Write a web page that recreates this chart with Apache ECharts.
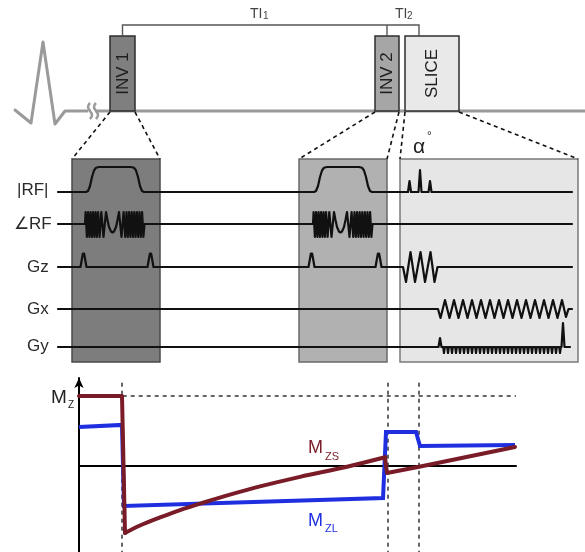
<!DOCTYPE html>
<html><head><meta charset="utf-8">
<style>html,body{margin:0;padding:0;background:#fff}#c{width:585px;height:552px}</style>
<script src="https://cdn.jsdelivr.net/npm/echarts@6/dist/echarts.min.js"></script>
</head><body><div id="c"></div>
<script>
// ================= DATA =================
// --- top timeline (time runs left to right) ---
const ecgTrace = [[15,110],[31,123],[43,42],[55,124],[65,111],[87,111]];
const timelineRight = [[97,111],[585,111]];
const breakMarkA = [[90,103],[88,107],[90,111],[92,115],[90,119]];
const breakMarkB = [[96,103],[94,107],[96,111],[98,115],[96,119]];
const blockNames = ['INV 1','INV 2','SLICE'];
const blockStart = [110, 375, 405];
const blockEnd   = [135, 399, 459];
const blockTop = 36, blockBottom = 111;
const tiTicks = [122.5, 387, 419];
const tiBarY = 25;
const tiLabels = ['TI','TI'];
const tiSubs = ['1','2'];

// --- zoomed panels ---
const panelStart = [72, 299, 400];
const panelEnd   = [160, 387, 578];
const panelTop = 159, panelBottom = 362;

// --- channels ---
const channelNames = ['|RF|','\u2220RF','Gz','Gx','Gy'];
const channelY = [192, 224, 267, 309, 347];
const channelStart = 58, channelEnd = 572;
// inversion pulse magnitude: [dt, amplitude]
const invStart = [86, 314];
const invRFshape = [[0,0],[2,1],[4,6],[6,15],[8,21.5],[10,24.3],[13,25],[45,25],[48,24.3],[50,21.5],[52,15],[54,6],[56,1],[58,0]];
// inversion pulse phase (chirped sweep)
const invPhaseStart = [85, 313];
const invPhaseShape = [[0,0],[0.6,12],[1.9,-13],[3.1,12],[4.4,-13],[5.6,12],[6.9,-13],[8.1,12],[9.4,-13],[10.6,12],[11.9,-13],[13.1,12],[14.6,-13],[16.3,12],[18.5,-13],[21,12],[22.5,4],[24,-3],[26,-7.5],[27.5,-8.5],[29,-7.5],[31,-3],[32.5,4],[34,12],[36.5,-13],[38.6,12],[40.2,-13],[41.5,12],[42.8,-13],[44.1,12],[45.4,-13],[46.7,12],[48,-13],[49.3,12],[50.6,-13],[51.9,12],[53.2,-13],[54.5,12],[55.8,-13],[57.1,12],[58.4,-13],[59.5,0]];
// crusher gradients
const crusherTimes = [83.5, 150.5, 311.5, 378.5];
const crusherShape = [[-3,0],[-1.6,8],[-0.6,13.5],[0.6,13.5],[1.6,8],[3,0]];
// imaging block
const sliceRF = [[408,0],[409.5,11],[411,0],[418.5,0],[420,22],[421.5,0],[428.5,0],[430,11],[431.5,0]];
const sliceGz = [[403,0],[406,-15],[410.5,15],[415,-15],[420.5,15],[425,-15],[430.5,15],[434.5,-15],[437.5,0]];
const readoutGx = [[438,0],[440.5,-9],[445,9],[449.5,-9],[454,9],[458.5,-9],[463,9],[467.5,-9],[472,9],[476.5,-9],[481,9],[485.5,-9],[490,9],[494.5,-9],[499,9],[503.5,-9],[508,9],[512.5,-9],[517,9],[521.5,-9],[526,9],[530.5,-9],[535,9],[539.5,-9],[544,9],[548.5,-9],[553,9],[557.5,-9],[562,9],[566,-8],[568.5,0]];
const gyPrephase = [[438.5,0],[440,9],[441.5,0]];
const gyBlips = [444,448,452,456,460,464,468,472,476,480,484,488,492,496,500,504,508,512,516,520,524,528,532,536,540,544,548,552,556,560];
const gyBlipShape = [[-0.8,0],[0,-6],[0.8,0]];
const gyRewind = [[561.5,0],[563,24],[564.5,0]];
const gyEnd = 570;

// --- Mz evolution (time 0..100, Mz normalised to M0 = 1) ---
const mzsBefore   = [[0,1.0],[9.84,1.0],[10.53,-0.957]];
const mzsRecovery = [[10.53,-0.957],[13.96,-0.850],[18.54,-0.735],[23.11,-0.630],[28.38,-0.525],[34.55,-0.410],[41.42,-0.292],[50.57,-0.155],[61.33,-0.010],[70.02,0.125]];
const mzsAfter    = [[70.02,0.125],[70.48,-0.10],[77.57,-0.014],[99.77,0.271]];
const mzlCurve = [[0,0.557],[9.84,0.586],[10.3,-0.571],[69.57,-0.457],[70.25,0.486],[77.12,0.486],[78.03,0.286],[99.77,0.30]];
const eventTimes = [9.84, 70.7, 77.8];
const m0Level = 1.0;

// ================= BUILD =================
const FONT = '"Liberation Sans", Arial, Helvetica, sans-serif';
function place(shape, t0, base){ return shape.map(p => [t0 + p[0], base - p[1]]); }
function absolute(pts, base){ return pts.map(p => [p[0], base - p[1]]); }

const chRF = [[channelStart, channelY[0]]]
  .concat(place(invRFshape, invStart[0], channelY[0]))
  .concat(place(invRFshape, invStart[1], channelY[0]))
  .concat(absolute(sliceRF, channelY[0]))
  .concat([[channelEnd, channelY[0]]]);
const chPh = [[channelStart, channelY[1]]]
  .concat(place(invPhaseShape, invPhaseStart[0], channelY[1]))
  .concat(place(invPhaseShape, invPhaseStart[1], channelY[1]))
  .concat([[channelEnd, channelY[1]]]);
let chGz = [[channelStart, channelY[2]]];
crusherTimes.forEach(t => { chGz = chGz.concat(place(crusherShape, t, channelY[2])); });
chGz = chGz.concat(absolute(sliceGz, channelY[2])).concat([[channelEnd, channelY[2]]]);
const chGx = [[channelStart, channelY[3]]].concat(absolute(readoutGx, channelY[3])).concat([[channelEnd, channelY[3]]]);
let chGy = [[channelStart, channelY[4]]].concat(absolute(gyPrephase, channelY[4]));
gyBlips.forEach(t => { chGy = chGy.concat(place(gyBlipShape, t, channelY[4])); });
chGy = chGy.concat(absolute(gyRewind, channelY[4])).concat([[gyEnd, channelY[4]]]);
const channels = [chRF, chPh, chGz, chGx, chGy];

const panelData = panelStart.map((s,i) => [s, panelTop, panelEnd[i], panelBottom]);
const blockData = blockStart.map((s,i) => [s, blockTop, blockEnd[i], blockBottom]);
const panelFill = ['#7d7d7d','#b1b1b1','#e6e6e6'];
const panelStroke = ['#4a4a4a','#6a6a6a','#7a7a7a'];
const blockFill = ['#7f7f7f','#a6a6a6','#e9e9e9'];

const zoomLines = [];
blockStart.forEach((s,i) => {
  zoomLines.push({coords:[[s, blockBottom+1],[panelStart[i], panelTop]]});
  zoomLines.push({coords:[[blockEnd[i], blockBottom+1],[panelEnd[i], panelTop]]});
});
const bracket = [
  {coords:[[tiTicks[0], blockTop],[tiTicks[0], tiBarY],[tiTicks[2], tiBarY],[tiTicks[2], blockTop]]},
  {coords:[[tiTicks[1], tiBarY],[tiTicks[1], blockTop]]}
];

const guides = [{coords:[[10, m0Level],[100, m0Level]]}];
eventTimes.forEach(t => guides.push({coords:[[t, 1.19],[t, -1.229]]}));

function poly(list, color, width, z){
  return {type:'lines', coordinateSystem:'cartesian2d', xAxisIndex:0, yAxisIndex:0, polyline:true, silent:true, z:z,
    data:list.map(c => ({coords:c})), lineStyle:{color:color, width:width, opacity:1, join:'round', cap:'round'}};
}

const series = [];
series.push({type:'custom', xAxisIndex:0, yAxisIndex:0, z:1, data:panelData, silent:true,
  renderItem:(params, api) => {
    const a = api.coord([api.value(0), api.value(1)]);
    const b = api.coord([api.value(2), api.value(3)]);
    return {type:'rect', shape:{x:a[0], y:a[1], width:b[0]-a[0], height:b[1]-a[1]},
      style:{fill:panelFill[params.dataIndex], stroke:panelStroke[params.dataIndex], lineWidth:1.5}};
  }});
series.push(poly([ecgTrace, timelineRight], '#9a9a9a', 3, 2));
series.push({type:'line', xAxisIndex:0, yAxisIndex:0, data:breakMarkA, smooth:true, showSymbol:false, symbol:'none', silent:true, z:2,
  lineStyle:{color:'#9a9a9a', width:2.5}});
series.push({type:'line', xAxisIndex:0, yAxisIndex:0, data:breakMarkB, smooth:true, showSymbol:false, symbol:'none', silent:true, z:2,
  lineStyle:{color:'#9a9a9a', width:2.5}});
series.push({type:'custom', xAxisIndex:0, yAxisIndex:0, z:3, data:blockData, silent:true,
  renderItem:(params, api) => {
    const a = api.coord([api.value(0), api.value(1)]);
    const b = api.coord([api.value(2), api.value(3)]);
    return {type:'group', children:[
      {type:'rect', shape:{x:a[0], y:a[1], width:b[0]-a[0], height:b[1]-a[1]},
        style:{fill:blockFill[params.dataIndex], stroke:'#2e2e2e', lineWidth:1.5}},
      {type:'text', x:(a[0]+b[0])/2 + 0.5, y:(a[1]+b[1])/2, rotation:Math.PI/2,
        style:{text:blockNames[params.dataIndex], fill:'#1e1e1e', font:'17px ' + FONT,
          align:'center', verticalAlign:'middle', textAlign:'center', textVerticalAlign:'middle'}}
    ]};
  }});
series.push({type:'lines', coordinateSystem:'cartesian2d', xAxisIndex:0, yAxisIndex:0, z:3, silent:true,
  data:zoomLines, lineStyle:{color:'#111', width:1.6, type:[4,3.5], opacity:1}});
series.push({type:'lines', coordinateSystem:'cartesian2d', xAxisIndex:0, yAxisIndex:0, z:3, silent:true,
  polyline:true, data:bracket, lineStyle:{color:'#555', width:1.4, opacity:1}});
series.push(poly(channels, '#111', 2.2, 5));

// Mz plot
series.push({type:'lines', coordinateSystem:'cartesian2d', xAxisIndex:1, yAxisIndex:1, z:3, silent:true,
  data:guides, lineStyle:{color:'#333', width:1.5, type:[4,4], opacity:1}});
series.push({type:'line', xAxisIndex:1, yAxisIndex:1, data:mzlCurve, showSymbol:false, symbol:'none', z:6,
  lineStyle:{color:'#1f2fe0', width:4, join:'miter'}, silent:true, animation:false});
[mzsBefore, mzsRecovery, mzsAfter].forEach((seg, i) => {
  series.push({type:'line', xAxisIndex:1, yAxisIndex:1, data:seg, showSymbol:false, symbol:'none', z:7,
    smooth: i === 1 ? 0.35 : false,
    lineStyle:{color:'#7a1b28', width:4, join:'round', cap:'round'}, silent:true, animation:false});
});

function txt(x, y, text, size, color, align){
  return {type:'text', x:x, y:y, z:100, silent:true,
    style:{text:text, fill:color, font:size + 'px ' + FONT,
      align:align||'left', verticalAlign:'middle', textAlign:align||'left', textVerticalAlign:'middle'}};
}
const graphics = [];
const chLabelX = [17, 14, 27, 27, 27];
const chLabelDy = [-2, 0, 0, 0, -1];
channelNames.forEach((n,i) => graphics.push(txt(chLabelX[i], channelY[i] + chLabelDy[i], n, 17, '#2a2a2a')));
graphics.push(txt(250, 14, tiLabels[0], 14, '#444'));
graphics.push(txt(263, 16, tiSubs[0], 10, '#444'));
graphics.push(txt(395, 14, tiLabels[1], 14, '#444'));
graphics.push(txt(407, 16, tiSubs[1], 10, '#444'));
graphics.push(txt(413, 147, '\u03b1', 21, '#222'));
graphics.push(txt(427, 137, '\u00b0', 12, '#222'));
graphics.push(txt(51, 398, 'M', 19, '#222'));
graphics.push(txt(68, 405, 'Z', 10, '#222'));
graphics.push(txt(308, 448, 'M', 18, '#7a1b28'));
graphics.push(txt(325, 457, 'ZS', 11, '#7a1b28'));
graphics.push(txt(308, 521, 'M', 18, '#1f2fe0'));
graphics.push(txt(325, 529, 'ZL', 11, '#1f2fe0'));

const hidden = {show:false};
const option = {
  backgroundColor:'#fff',
  animation:false,
  grid:[
    {left:0, top:0, width:585, height:552},
    {left:79, top:378, width:437, height:174}
  ],
  xAxis:[
    {gridIndex:0, type:'value', min:0, max:585, show:false},
    {gridIndex:1, type:'value', min:0, max:100,
      axisLine:{show:true, onZero:true, lineStyle:{color:'#000', width:2}},
      axisTick:hidden, axisLabel:hidden, splitLine:hidden}
  ],
  yAxis:[
    {gridIndex:0, type:'value', min:0, max:552, inverse:true, show:false},
    {gridIndex:1, type:'value', min:-1.229, max:1.257,
      axisLine:{show:true, onZero:true, symbol:['none','arrow'], symbolSize:[7,10], lineStyle:{color:'#000', width:2}},
      axisTick:hidden, axisLabel:hidden, splitLine:hidden}
  ],
  series:series,
  graphic:graphics
};
const chart = echarts.init(document.getElementById('c'), null, {renderer:'canvas'});
chart.setOption(option);
</script></body></html>
